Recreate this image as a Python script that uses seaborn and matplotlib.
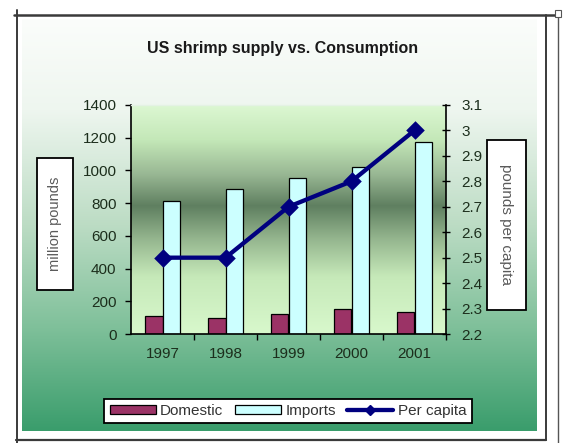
import numpy as np
import pandas as pd
import matplotlib
matplotlib.use("Agg")
import matplotlib.pyplot as plt
from matplotlib.lines import Line2D
from matplotlib.patches import Rectangle, Patch
from matplotlib.colors import LinearSegmentedColormap
import seaborn as sns

# ---- data -------------------------------------------------------------
years = ["1997", "1998", "1999", "2000", "2001"]
domestic = [107, 95, 120, 152, 132]          # million pounds
imports = [812, 889, 955, 1020, 1176]        # million pounds
per_capita = [2.5, 2.5, 2.7, 2.8, 3.0]       # pounds per capita
left_ticks = [0, 200, 400, 600, 800, 1000, 1200, 1400]
right_ticks = [2.2, 2.3, 2.4, 2.5, 2.6, 2.7, 2.8, 2.9, 3.0, 3.1]

bars = pd.DataFrame({
    "year": years * 2,
    "value": domestic + imports,
    "series": ["Domestic"] * len(years) + ["Imports"] * len(years),
})
line = pd.DataFrame({"year": years, "per_capita": per_capita})

# ---- style ------------------------------------------------------------
sns.set_theme(style="white")
plt.rcParams["font.family"] = ["Liberation Sans", "DejaVu Sans"]

W, H = 565, 443
fig = plt.figure(figsize=(W / 100, H / 100), dpi=100)
fig.patch.set_facecolor("white")


def fx(px):
    return px / W


def fy(py):
    return 1 - py / H


def box(x0, y0, x1, y1):
    return [fx(x0), fy(y1), fx(x1) - fx(x0), fy(y0) - fy(y1)]


tick_color = "#1c2e1c"
dom_color = "#9b3366"
imp_color = "#ccffff"
line_color = "#00007f"

# chart area: vertical white-to-green gradient
bg = fig.add_axes(box(22, 19, 537, 431), zorder=0)
bg_cmap = LinearSegmentedColormap.from_list(
    "chartbg",
    [(0.0, "#fbfdfb"), (0.22, "#eef6ef"), (0.5, "#bcdcc4"),
     (0.75, "#7fc09a"), (1.0, "#3a9d6c")])
bg.imshow(np.linspace(0, 1, 256)[:, None], cmap=bg_cmap, aspect="auto",
          extent=[0, 1, 0, 1], origin="upper")
bg.set_axis_off()

# plot area: light green with a dark band through the middle
pa_pos = box(131, 105, 446, 334)
pa = fig.add_axes(pa_pos, zorder=0.5)
pa_cmap = LinearSegmentedColormap.from_list(
    "plotbg",
    [(0.0, "#dcf7d2"), (0.15, "#c4e8b8"), (0.3, "#99b894"),
     (0.44, "#5f7f60"), (0.58, "#93b48d"), (0.75, "#c6e9b9"),
     (1.0, "#d8f8cc")])
pa.imshow(np.linspace(0, 1, 256)[:, None], cmap=pa_cmap, aspect="auto",
          extent=[0, 1, 0, 1], origin="upper")
pa.set_axis_off()

# ---- bars (left axis) -------------------------------------------------
ax = fig.add_axes(pa_pos, zorder=1)
ax.set_facecolor("none")
sns.barplot(data=bars, x="year", y="value", hue="series",
            palette={"Domestic": dom_color, "Imports": imp_color},
            width=0.57, edgecolor="black", linewidth=0.9,
            saturation=1, legend=False, ax=ax)
ax.set_ylim(0, 1400)
ax.set_yticks(left_ticks)
ax.set_yticklabels([str(t) for t in left_ticks])
ax.set_xlim(-0.5, len(years) - 0.5)
ax.set_xlabel("")
ax.set_ylabel("")
ax.tick_params(axis="y", which="major", direction="out", length=4,
               width=1, color="black", pad=6.5, labelsize=11,
               labelcolor=tick_color, left=True)
ax.tick_params(axis="x", which="major", length=0, pad=9, labelsize=11,
               labelcolor=tick_color)
ax.set_xticks(np.arange(len(years)) + 0.5, minor=True)
ax.tick_params(axis="x", which="minor", direction="out", length=4,
               width=1, color="black", bottom=True)
for side in ("left", "bottom"):
    ax.spines[side].set_color("black")
    ax.spines[side].set_linewidth(1.2)
ax.spines["top"].set_color("#e4f2e4")
ax.spines["top"].set_linewidth(1)
ax.spines["right"].set_visible(False)

# ---- per-capita line (right axis) -------------------------------------
ax2 = ax.twinx()
sns.pointplot(data=line, x="year", y="per_capita", color=line_color,
              markers="D", markersize=7, linewidth=3.1, ax=ax2)
ax2.set_xlim(-0.5, len(years) - 0.5)
ax2.set_ylim(2.2, 3.1)
ax2.set_yticks(right_ticks)
ax2.set_yticklabels([f"{t:g}" for t in right_ticks])
ax2.set_ylabel("")
ax2.set_xlabel("")
ax2.tick_params(axis="y", direction="inout", length=6, width=1,
                color="black", pad=8, labelsize=11, labelcolor=tick_color,
                right=True)
ax2.spines["right"].set_color("black")
ax2.spines["right"].set_linewidth(1.2)
for side in ("left", "top", "bottom"):
    ax2.spines[side].set_visible(False)

# ---- titles -----------------------------------------------------------
fig.text(fx(283), fy(48), "US shrimp supply vs. Consumption",
         ha="center", va="center", fontsize=11.5, fontweight="bold",
         color="#1a1a1a")

fig.add_artist(Rectangle((fx(37), fy(290)), fx(73) - fx(37),
                         fy(158) - fy(290), transform=fig.transFigure,
                         facecolor="white", edgecolor="black",
                         linewidth=1.3, zorder=3))
fig.text(fx(55), fy(224), "million pounds", rotation=90, ha="center",
         va="center", fontsize=10.5, color="#5a5a5a", zorder=4)

fig.add_artist(Rectangle((fx(487), fy(310)), fx(526) - fx(487),
                         fy(140) - fy(310), transform=fig.transFigure,
                         facecolor="white", edgecolor="black",
                         linewidth=1.3, zorder=3))
fig.text(fx(506), fy(225), "pounds per capita", rotation=270, ha="center",
         va="center", fontsize=11, color="#5a5a5a", zorder=4)

# ---- legend -----------------------------------------------------------
handles = [
    Patch(facecolor=dom_color, edgecolor="black", linewidth=0.9,
          label="Domestic"),
    Patch(facecolor=imp_color, edgecolor="black", linewidth=0.9,
          label="Imports"),
    Line2D([0], [0], color=line_color, linewidth=3.1, marker="D",
           markersize=5.5, label="Per capita"),
]
leg = fig.legend(handles=handles, loc="center",
                 bbox_to_anchor=(fx(288), fy(411)), ncol=3, fontsize=11,
                 frameon=True, fancybox=False, edgecolor="black",
                 facecolor="white", framealpha=1, handlelength=3.0,
                 handleheight=0.55, handletextpad=0.3, columnspacing=0.75,
                 borderpad=0.35, borderaxespad=0, numpoints=1)
leg.get_frame().set_linewidth(1.3)
leg.set_zorder(5)
for t in leg.get_texts():
    t.set_color("#333333")

# ---- outer frame ------------------------------------------------------
frame = dict(transform=fig.transFigure, color="#3a3a3a", zorder=6)
fig.add_artist(Line2D([fx(14), fx(557)], [fy(15), fy(15)], linewidth=1.8,
                      **frame))
fig.add_artist(Line2D([fx(16.5), fx(16.5)], [fy(10), fy(443)],
                      linewidth=1.4, **frame))
fig.add_artist(Line2D([fx(546), fx(546)], [fy(15), fy(440)],
                      linewidth=1.4, **frame))
fig.add_artist(Line2D([fx(16), fx(546)], [fy(440), fy(440)],
                      linewidth=1.6, **frame))
fig.add_artist(Line2D([fx(558), fx(558)], [fy(12), fy(443)],
                      linewidth=1.0, transform=fig.transFigure,
                      color="#555555", zorder=6))
fig.add_artist(Rectangle((fx(555), fy(17)), fx(561) - fx(555),
                         fy(10) - fy(17), transform=fig.transFigure,
                         facecolor="white", edgecolor="#555555",
                         linewidth=0.8, zorder=7))

fig.savefig("out.png", dpi=100)
